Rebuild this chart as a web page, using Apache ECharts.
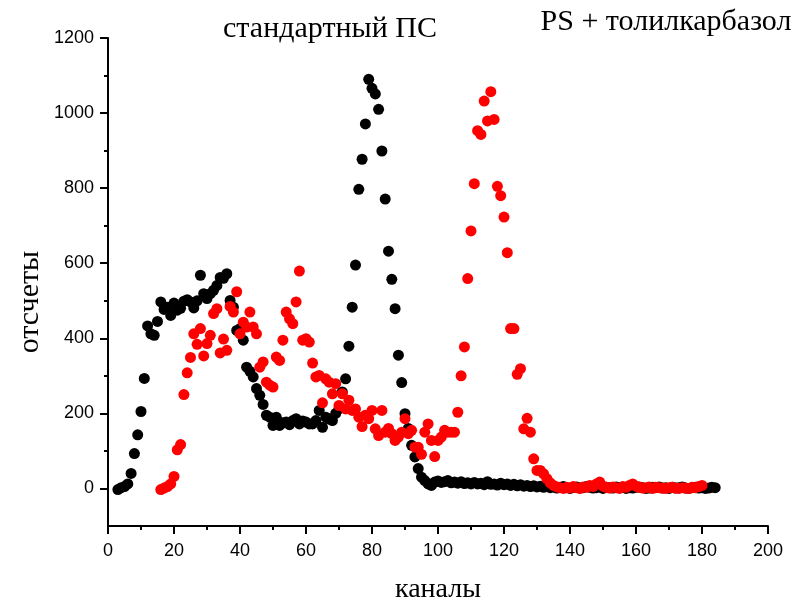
<!DOCTYPE html>
<html>
<head>
<meta charset="utf-8">
<script src="https://cdn.jsdelivr.net/npm/echarts@6/dist/echarts.min.js"></script>
<style>
html,body{margin:0;padding:0;background:#fff;}
#chart{width:799px;height:604px;}
</style>
</head>
<body>
<div id="chart"></div>
<script>
// Channel numbers (x) and counts (y) for each series
const blackChannels = [3,4,5,6,7,8,9,10,11,12,13,14,15,16,17,18,19,20,21,22,23,24,25,26,27,28,29,30,31,32,33,34,35,36,37,38,39,40,41,42,43,44,45,46,47,48,49,50,51,52,53,54,55,56,57,58,59,60,61,62,63,64,65,66,67,68,69,70,71,72,73,74,75,76,77,78,79,80,81,82,83,84,85,86,87,88,89,90,91,92,93,94,95,96,97,98,99,100,101,102,103,104,105,106,107,108,109,110,111,112,113,114,115,116,117,118,119,120,121,122,123,124,125,126,127,128,129,130,131,132,133,134,135,136,137,138,139,140,141,142,143,144,145,146,147,148,149,150,151,152,153,154,155,156,157,158,159,160,161,162,163,164,165,166,167,168,169,170,171,172,173,174,175,176,177,178,179,180,181,182,183,184];
const blackCounts = [-3,2,5,12,40,93,143,205,293,433,412,408,445,497,477,483,461,494,475,480,499,503,497,481,500,568,519,506,519,528,541,562,560,572,501,483,421,426,395,323,312,297,266,248,224,195,190,168,190,168,175,177,170,181,186,172,180,177,172,172,181,208,163,190,185,181,200,212,257,292,379,483,595,797,877,971,1090,1066,1051,1010,899,771,632,557,479,355,282,199,160,115,84,53,30,21,12,8,17,20,16,18,21,15,17,14,18,13,15,12,16,12,14,10,18,11,12,9,14,10,12,8,11,7,10,6,8,5,7,4,6,3,5,2,4,1,3,5,2,0,3,4,1,2,5,3,1,2,4,0,3,2,1,4,2,3,0,2,1,3,4,2,0,1,3,2,4,1,2,0,3,1,2,4,1,0,2,3,1,2,0,1,3,2];
const redChannels = [16,17,18,19,20,21,22,23,24,25,26,27,28,29,30,31,32,33,34,35,36,37,38,39,40,41,42,43,44,45,46,47,48,49,50,51,52,53,54,55,56,57,58,59,60,61,62,63,64,65,66,67,68,69,70,71,72,73,74,75,76,77,78,79,80,81,82,83,84,85,86,87,88,89,90,91,92,93,94,95,96,97,98,99,100,101,102,103,104,105,106,107,108,109,110,111,112,113,114,115,116,117,118,119,120,121,122,123,124,125,126,127,128,129,130,131,132,133,134,135,136,137,138,139,140,141,142,143,144,145,146,147,148,149,150,151,152,153,154,155,156,157,158,159,160,161,162,163,164,165,166,167,168,169,170,171,172,173,174,175,176,177,178,179,180];
const redCounts = [-3,1,5,12,32,103,117,250,308,349,412,384,426,353,386,408,466,479,361,398,368,485,470,524,412,443,430,470,430,412,323,337,283,275,270,350,341,395,470,452,439,497,579,395,399,390,334,297,301,228,292,283,252,279,221,252,212,235,208,212,190,165,195,186,208,159,141,208,150,160,146,128,137,150,186,146,155,110,110,91,150,172,128,85,128,137,155,150,150,150,203,300,377,559,686,812,953,943,1032,979,1057,983,805,780,723,628,426,426,304,319,159,187,150,79,48,48,39,26,15,8,4,2,0,3,1,5,2,0,4,3,8,5,12,17,6,3,1,4,2,0,5,3,8,12,6,3,1,2,4,0,3,2,1,0,2,3,1,0,2,1,0,3,2,5,8];
const xTicks = [0,20,40,60,80,100,120,140,160,180,200];
const yMajorTicks = [0,200,400,600,800,1000,1200];
const yMinorTicks = [100,300,500,700,900,1100];
const seriesNames = ['стандартный ПС', 'PS + толилкарбазол'];
const xAxisTitle = 'каналы';
const yAxisTitle = 'отсчеты';

const pair = (xs, ys) => xs.map((x, i) => [x, ys[i]]);

const chart = echarts.init(document.getElementById('chart'), null, {renderer: 'canvas'});
const axisFont = {color: '#000', fontFamily: 'Liberation Sans', fontSize: 18, formatter: v => String(v)};

chart.setOption({
  animation: false,
  backgroundColor: '#fff',
  grid: {left: 108, right: 31, top: 38, bottom: 78},
  xAxis: {
    type: 'value', min: 0, max: 200, interval: 20,
    axisLine: {show: true, onZero: false, lineStyle: {color: '#000', width: 2}},
    axisTick: {show: true, length: 8, lineStyle: {color: '#000', width: 2}},
    minorTick: {show: true, splitNumber: 2, length: 4, lineStyle: {color: '#000', width: 2}},
    axisLabel: Object.assign({margin: 16, customValues: xTicks}, axisFont),
    splitLine: {show: false}
  },
  yAxis: [
    {
      type: 'value', min: -100, max: 1200, position: 'left',
      axisLine: {show: true, onZero: false, lineStyle: {color: '#000', width: 2}},
      axisTick: {show: true, length: 4, customValues: yMinorTicks, lineStyle: {color: '#000', width: 2}},
      axisLabel: {show: false},
      splitLine: {show: false}
    },
    {
      type: 'value', min: -100, max: 1200, position: 'left',
      axisLine: {show: false, onZero: false},
      axisTick: {show: true, length: 8, customValues: yMajorTicks, lineStyle: {color: '#000', width: 2}},
      axisLabel: Object.assign({margin: 14, customValues: yMajorTicks}, axisFont),
      splitLine: {show: false}
    }
  ],
  series: [
    {
      name: seriesNames[0], type: 'scatter', yAxisIndex: 0,
      symbol: 'circle', symbolSize: 11,
      itemStyle: {color: '#000000', opacity: 1},
      data: pair(blackChannels, blackCounts)
    },
    {
      name: seriesNames[1], type: 'scatter', yAxisIndex: 0,
      symbol: 'circle', symbolSize: 11,
      itemStyle: {color: '#ff0000', opacity: 1},
      data: pair(redChannels, redCounts)
    }
  ],
  graphic: [
    {type: 'text', x: 330, y: 29, style: {text: seriesNames[0], font: '30px "Liberation Serif"', fill: '#000', textAlign: 'center', textVerticalAlign: 'middle'}},
    {type: 'text', x: 666, y: 22, style: {text: seriesNames[1], font: '30px "Liberation Serif"', fill: '#000', textAlign: 'center', textVerticalAlign: 'middle'}},
    {type: 'text', x: 438, y: 590, style: {text: xAxisTitle, font: '28px "Liberation Serif"', fill: '#000', textAlign: 'center', textVerticalAlign: 'middle'}},
    {type: 'text', x: 30, y: 302, rotation: Math.PI / 2, style: {text: yAxisTitle, font: '30px "Liberation Serif"', fill: '#000', textAlign: 'center', textVerticalAlign: 'middle'}}
  ]
});
</script>
</body>
</html>
